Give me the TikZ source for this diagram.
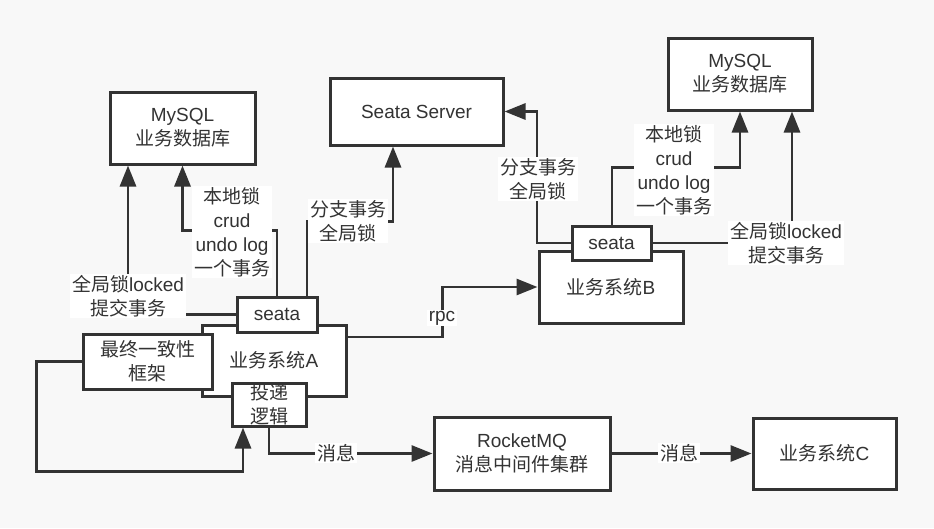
\documentclass[tikz,border=0pt]{standalone}
\usepackage{fontspec}
\setmainfont{Liberation Sans}
\newfontfamily\cjk{Noto Sans CJK SC}
\usetikzlibrary{arrows.meta}
\definecolor{ink}{HTML}{333333}
\definecolor{bgcol}{HTML}{F8F8F8}
\begin{document}
\begin{tikzpicture}[x=1pt,y=-1pt,
  box/.style={draw=ink,line width=3pt,fill=white,inner sep=0pt,align=center,text=ink,font=\fontsize{19}{24}\selectfont},
  conn/.style={draw=ink,line width=2.9pt,-{Triangle[length=21pt,width=16pt]}},
  lab/.style={fill=white,inner xsep=2pt,inner ysep=1pt,align=center,text=ink,font=\fontsize{19}{24}\selectfont}]
\fill[bgcol] (0,0) rectangle (934,528);
\useasboundingbox (0,0) rectangle (934,528);

% boxes
\node[box,minimum width=145pt,minimum height=72pt] (mysqlA) at (182.5,128) {MySQL\\{\cjk 业务数据库}};
\node[box,minimum width=173pt,minimum height=67pt] (server) at (416.5,111.5) {Seata Server};
\node[box,minimum width=144pt,minimum height=72pt] (mysqlB) at (740,74) {MySQL\\{\cjk 业务数据库}};
\node[box,minimum width=144pt,minimum height=72pt] (sysB) at (611,287) {{\cjk 业务系统}B};
\node[box,minimum width=79pt,minimum height=34pt] (seataB) at (611.5,243) {seata};
\node[box,minimum width=144pt,minimum height=71pt] (sysA) at (274,360.5) {{\cjk 业务系统}A};
\node[box,minimum width=80pt,minimum height=35pt] (seataA) at (277,314.5) {seata};
\node[box,minimum width=129pt,minimum height=55pt] (frame) at (147.5,361.5) {{\cjk 最终一致性}\\{\cjk 框架}};
\node[box,minimum width=74pt,minimum height=43pt] (deliver) at (269,404.5) {{\cjk 投递}\\{\cjk 逻辑}};
\node[box,minimum width=176pt,minimum height=73pt] (mq) at (522,453.5) {RocketMQ\\{\cjk 消息中间件集群}};
\node[box,minimum width=143pt,minimum height=71pt] (sysC) at (824.5,453.5) {{\cjk 业务系统}C};

% connectors
\draw[conn] (seataA.west) -| ([xshift=-54.5pt]mysqlA.south);
\draw[conn] (seataA.north) -- ++(0,-65) -| (mysqlA.south);
\draw[conn] ([xshift=30pt]seataA.north) -- ++(0,-74) -| ([xshift=-23.5pt]server.south);
\draw[conn] (seataB.west) -- ++(-33.5,0) |- (server.east);
\draw[conn] ([yshift=23.5pt]sysA.east) -- ++(95,0) |- (sysB.west);
\draw[conn] ([xshift=0.5pt]seataB.north) -- ++(0,-57) -| (mysqlB.south);
\draw[conn] (seataB.east) -| ([xshift=52pt]mysqlB.south);
\draw[conn] (frame.west) -- ++(-45,0) -- ++(0,110) -| ([xshift=-26pt]deliver.south);
\draw[conn] (deliver.south) |- (mq.west);
\draw[conn] (mq.east) -- (sysC.west);

% labels
\node[lab] (l1) at (128,296) {{\cjk 全局锁}locked\\{\cjk 提交事务}};
\node[lab] (l2) at (232,232) {{\cjk 本地锁}\\crud\\undo log\\{\cjk 一个事务}};
\node[lab] (l3) at (348,221) {{\cjk 分支事务}\\{\cjk 全局锁}};
\node[lab] (l4) at (538,179) {{\cjk 分支事务}\\{\cjk 全局锁}};
\node[lab] (l5) at (442,318) {rpc};
\node[lab] (l6) at (674,170) {{\cjk 本地锁}\\crud\\undo log\\{\cjk 一个事务}};
\node[lab] (l7) at (786,243) {{\cjk 全局锁}locked\\{\cjk 提交事务}};
\node[lab] (l8) at (336,453) {{\cjk 消息}};
\node[lab] (l9) at (679,453) {{\cjk 消息}};
\end{tikzpicture}
\end{document}
